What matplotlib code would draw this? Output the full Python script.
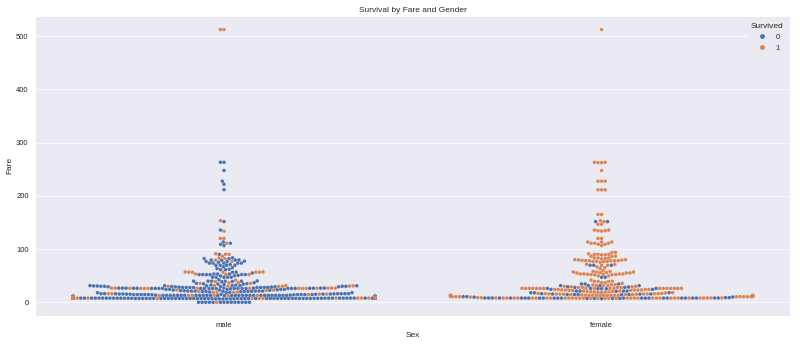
import warnings
import numpy as np
import pandas as pd
import matplotlib
matplotlib.use('Agg')
import matplotlib.pyplot as plt
import seaborn as sns

warnings.filterwarnings('ignore')

# Fare values read off the swarm, with estimated point counts per group
male_died_fares = [0.0, 6.2375, 6.4375, 6.45, 6.4958, 6.75, 6.8583, 6.975,
                   7.05, 7.125, 7.225, 7.2292, 7.25, 7.3125, 7.4958, 7.5208, 7.55, 7.65,
                   7.7292, 7.7333, 7.75, 7.775, 7.7958, 7.8542, 7.875, 7.8958, 7.925,
                   8.05, 8.1125, 8.3625, 8.4042, 8.4333, 8.4583, 8.6625, 8.7125, 9.0,
                   9.2167, 9.225, 9.35, 9.4833, 9.5, 9.8458,
                   10.5, 11.1333, 11.5, 12.275, 12.35, 12.475, 12.875, 13.0, 13.5, 14.0,
                   14.1083, 14.4, 14.4542, 14.5, 15.0, 15.05, 15.1, 15.2458, 15.5, 15.85,
                   16.0, 16.1, 17.8, 18.0, 18.75, 19.5, 19.9667,
                   20.2125, 20.25, 20.525, 20.575, 21.0, 21.075, 21.6792, 22.025, 22.525,
                   23.0, 23.25, 23.45, 24.15, 25.4667, 25.5875, 25.925, 26.0, 26.25,
                   26.2875, 26.55, 27.0, 27.7208, 27.75, 27.9, 28.5, 29.125, 29.7, 30.0,
                   30.0708, 30.5, 30.6958, 31.0, 31.275, 31.3875, 32.3208, 32.5, 33.5,
                   34.0208, 34.375, 34.6542, 35.0, 35.5, 36.75, 38.5, 39.0, 39.6875,
                   40.125, 42.4, 46.9, 47.1, 49.5, 50.0, 50.4958, 51.8625, 52.0, 53.1,
                   55.0, 56.4958, 61.175, 61.3792, 61.9792, 63.3583, 65.0, 66.6, 69.55,
                   71.0, 73.5, 75.25, 76.2917, 76.7292, 77.2875, 78.85, 79.2, 79.65,
                   81.8583, 82.1708, 83.475, 90.0, 106.425, 108.9, 110.8833, 113.275,
                   135.6333, 151.55, 211.5, 221.7792, 227.525, 247.5208, 263.0]
male_died_counts = [14, 1, 1, 1, 2, 1, 1, 1,
                    7, 3, 5, 10, 12, 1, 2, 1, 3, 3,
                    1, 1, 12, 12, 4, 7, 1, 34, 8,
                    38, 1, 1, 1, 1, 3, 10, 1, 2,
                    1, 2, 1, 1, 8, 1,
                    14, 1, 4, 1, 1, 1, 1, 25, 2, 1,
                    1, 1, 4, 4, 1, 1, 1, 2, 3, 2,
                    1, 5, 1, 2, 1, 1, 1,
                    2, 1, 2, 1, 3, 3, 1, 1, 1,
                    1, 1, 1, 5, 1, 1, 1, 14, 3,
                    1, 6, 1, 3, 1, 4, 2, 4, 2, 3,
                    1, 1, 1, 2, 3, 1, 1, 1, 1,
                    1, 1, 1, 1, 1, 1, 1, 1, 5,
                    1, 1, 4, 1, 1, 1, 1, 2, 4, 3,
                    1, 2, 1, 1, 1, 1, 1, 1, 4,
                    1, 5, 1, 1, 1, 1, 1, 2, 1,
                    1, 1, 1, 1, 1, 1, 1, 1,
                    1, 1, 1, 1, 1, 1, 2]

male_surv_fares = [0.0, 7.05, 7.1417, 7.225, 7.2292, 7.7375, 7.75, 7.775, 7.7958, 7.8292,
                   7.8542, 7.8958, 7.925, 8.05, 8.1125, 8.5167, 8.6625, 9.225, 9.35, 9.5,
                   9.5875, 10.5, 12.2875, 12.475, 13.0, 14.5, 15.2458, 15.5, 15.9, 16.1,
                   18.75, 18.7875, 19.2583, 20.525, 22.025, 23.0, 26.0, 26.25, 26.2875,
                   26.3875, 26.55, 29.7, 30.0, 30.5, 30.6958, 31.3875, 35.5, 36.75,
                   37.0042, 39.0, 41.5792, 52.0, 52.5542, 53.1, 56.4958, 56.9292, 57.0,
                   76.7292, 79.2, 81.8583, 83.1583, 86.5, 90.0, 91.0792, 110.8833,
                   120.0, 133.65, 153.4625, 512.3292]
male_surv_counts = [1, 1, 1, 1, 1, 1, 3, 2, 1, 1,
                    1, 1, 3, 3, 1, 1, 1, 1, 1, 1,
                    1, 1, 1, 1, 4, 1, 1, 1, 1, 1,
                    2, 1, 1, 1, 1, 2, 6, 1, 2,
                    1, 5, 1, 2, 2, 1, 2, 2, 1,
                    1, 1, 1, 1, 1, 1, 5, 1, 1,
                    1, 1, 1, 1, 1, 2, 1, 1,
                    2, 1, 1, 2]

female_died_fares = [6.75, 7.225, 7.2292, 7.7333, 7.75, 7.775, 7.8542, 7.8792, 7.8958,
                     7.925, 8.05, 8.6625, 9.5875, 9.8375, 10.4625, 10.5, 11.1333, 12.475,
                     13.0, 14.1083, 14.4542, 14.4583, 15.2458, 15.5, 16.1, 17.8, 18.0,
                     20.575, 21.0, 21.075, 24.15, 25.4667, 26.0, 27.9, 28.7125, 29.125,
                     31.275, 34.375, 46.9, 69.55, 151.55]
female_died_counts = [1, 2, 2, 1, 7, 3, 4, 1, 1,
                      3, 5, 2, 1, 1, 1, 1, 1, 1,
                      1, 1, 3, 1, 1, 2, 1, 1, 2,
                      1, 1, 3, 2, 3, 3, 2, 1, 1,
                      4, 3, 2, 3, 2]

female_surv_fares = [7.1417, 7.225, 7.2292, 7.65, 7.7333, 7.7375, 7.75, 7.775, 7.7792,
                     7.7875, 7.8292, 7.8542, 7.8792, 7.925, 8.0292, 8.05, 8.1375, 8.5167,
                     8.6625, 9.8417, 10.4625, 10.5, 11.1333, 12.2875, 12.475, 12.65, 13.0,
                     13.4167, 13.7917, 14.4542, 14.4583, 15.0458, 15.2458, 15.5, 15.7417,
                     15.9, 16.1, 16.7, 17.4, 18.0, 18.75, 19.2583, 19.5, 20.25, 20.525,
                     21.0, 22.025, 22.3583, 23.0, 23.25, 24.0, 24.15, 25.9292, 26.0,
                     26.25, 26.2833, 26.55, 27.7208, 27.75, 29.0, 30.0, 31.0, 31.3875,
                     32.5, 33.0, 35.5, 36.75, 37.0042, 39.0, 39.4, 39.6, 41.5792, 49.5,
                     49.5042, 51.4792, 51.8625, 52.0, 52.5542, 53.1, 55.0, 55.4417, 55.9,
                     56.9292, 57.0, 57.9792, 59.4, 63.3583, 65.0, 66.6, 69.3, 71.0,
                     71.2833, 75.25, 76.2917, 76.7292, 77.9583, 78.2667, 78.85, 79.2,
                     79.65, 80.0, 81.8583, 82.1708, 83.1583, 83.475, 86.5, 89.1042, 90.0,
                     91.0792, 93.5, 106.425, 108.9, 110.8833, 113.275, 120.0, 133.65,
                     134.5, 135.6333, 146.5208, 151.55, 153.4625, 164.8667, 211.3375,
                     227.525, 247.5208, 262.375, 263.0, 512.3292]
female_surv_counts = [1, 2, 2, 1, 2, 1, 11, 1, 1,
                      1, 1, 1, 3, 4, 1, 2, 1, 1,
                      1, 1, 1, 8, 2, 1, 1, 1, 12,
                      1, 1, 2, 1, 1, 2, 3, 1,
                      1, 2, 2, 1, 1, 2, 2, 2, 1, 1,
                      2, 1, 2, 3, 2, 2, 2, 2, 12,
                      2, 1, 1, 1, 3, 2, 2, 1, 2,
                      1, 2, 1, 1, 1, 2, 1, 1, 1, 1,
                      1, 1, 1, 2, 2, 4, 3, 1, 1,
                      2, 1, 2, 1, 1, 1, 1, 2, 1,
                      1, 1, 1, 3, 3, 2, 1, 1,
                      1, 2, 1, 1, 2, 1, 3, 2, 3,
                      1, 2, 1, 2, 3, 3, 2, 1,
                      2, 2, 2, 1, 1, 2, 3,
                      3, 1, 2, 2, 1]

sexes = ['male', 'female']
survived_levels = ['0', '1']
hue_colors = ['#4c72b0', '#dd8452']


def build_frame():
    groups = [
        ('male', '0', male_died_fares, male_died_counts),
        ('male', '1', male_surv_fares, male_surv_counts),
        ('female', '0', female_died_fares, female_died_counts),
        ('female', '1', female_surv_fares, female_surv_counts),
    ]
    parts = []
    for sex, surv, fares, counts in groups:
        fare = np.repeat(np.array(fares), np.array(counts))
        parts.append(pd.DataFrame({'Sex': sex, 'Survived': surv, 'Fare': fare}))
    return pd.concat(parts, ignore_index=True)


df = build_frame()

sns.set_theme(style='darkgrid')
plt.rcParams['font.family'] = ['Liberation Sans', 'DejaVu Sans']

fig, ax = plt.subplots(figsize=(16, 6.92), dpi=50)
fig.subplots_adjust(left=0.044, right=0.988, top=0.954, bottom=0.087)

sns.swarmplot(data=df, x='Sex', y='Fare', hue='Survived', order=sexes,
              hue_order=survived_levels, palette=hue_colors, size=5, ax=ax)

ax.set_title('Survival by Fare and Gender')
ax.set_xlabel('Sex')
ax.set_ylabel('Fare')
leg = ax.legend(title='Survived', loc='upper right', markerscale=1.4)
leg.get_frame().set_facecolor('#eaeaf2')
leg.get_frame().set_edgecolor('#eaeaf2')
leg.get_frame().set_alpha(1.0)

plt.savefig('out.png', dpi=50)
